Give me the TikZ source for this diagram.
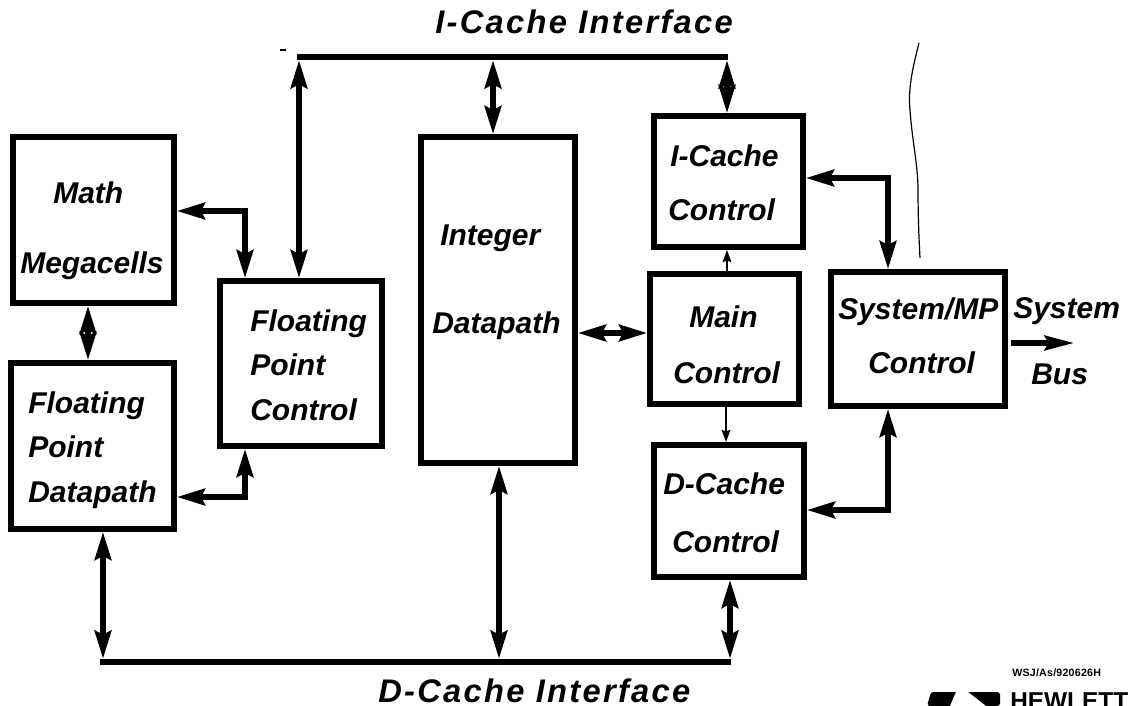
\documentclass[tikz,border=0pt]{standalone}
\usepackage{fontspec}
\setmainfont{Liberation Sans}
\usetikzlibrary{arrows.meta}
\tikzset{
  block/.style={draw=black,line width=4.5pt,fill=white,inner sep=0pt},
  lbl/.style={font=\bfseries\itshape\fontsize{22.5}{22.5}\selectfont,text=black,inner sep=0pt,anchor=base west},
  title/.style={font=\bfseries\itshape\fontsize{24.5}{24.5}\selectfont\addfontfeature{LetterSpace=7},text=black,inner sep=0pt,anchor=base west},
  bus/.style={line width=5pt,black},
  link/.style={line width=3.9pt,black,line join=miter},
  dbl/.style={link,{Stealth[length=21pt,width=12.5pt,inset=3pt]}-{Stealth[length=21pt,width=12.5pt,inset=3pt]}},
  head/.style={link,-{Stealth[length=22pt,width=11pt,inset=3pt]}},
  thinlink/.style={line width=1.6pt,black,-{Stealth[length=9pt,width=6.5pt,inset=1pt]}}
}
\begin{document}
\begin{tikzpicture}[x=0.75pt,y=-0.75pt]
\useasboundingbox (0,0) rectangle (1142,706);
\fill[white] (0,0) rectangle (1142,706);
% blocks
\node[block,minimum width=120.75pt,minimum height=124.5pt] (math) at (93.5,220) {};
\node[block,minimum width=122.25pt,minimum height=124.5pt] (fpd) at (92.5,446) {};
\node[block,minimum width=121.5pt,minimum height=123.75pt] (fpc) at (301,363.5) {};
\node[block,minimum width=115.5pt,minimum height=244.5pt] (int) at (498,300) {};
\node[block,minimum width=111.75pt,minimum height=98.25pt] (ic) at (728.5,181.5) {};
\node[block,minimum width=111.75pt,minimum height=97.5pt] (mc) at (724.5,339) {};
\node[block,minimum width=112.5pt,minimum height=99pt] (dc) at (729,511) {};
\node[block,minimum width=130.5pt,minimum height=100.5pt] (sys) at (918,339) {};
% named connector points
\coordinate (tl) at (299,57); \coordinate (tm) at (493,57); \coordinate (tr) at (727,57);
\coordinate (bl) at (103,662); \coordinate (bm) at (499,662); \coordinate (br) at (730,662);
\coordinate (busin) at (1011,343);
\coordinate (busout) at (1074,343);
% buses
\draw[bus,shorten <=-1.5pt,shorten >=-0.75pt] (tl) -- (tr);
\draw[bus,shorten <=-2.25pt,shorten >=-0.75pt] (bl) -- (br);
\draw[dbl] ([yshift=-2.5pt]tl) -- (tl |- fpc.north);
\draw[dbl] ([yshift=-2.5pt]tm) -- (tm |- int.north);
\draw[dbl] ([yshift=-2.5pt]tr) -- (tr |- ic.north);
\draw[dbl] ([yshift=2.5pt]bl) -- (bl |- fpd.south);
\draw[dbl] ([yshift=2.5pt]bm) -- (bm |- int.south);
\draw[dbl] ([yshift=2.5pt]br) -- (br |- dc.south);
\draw[dbl] (88,0 |- math.south) -- (88,0 |- fpd.north);
\draw[dbl] (int.east |- 0,333) -- (mc.west |- 0,333);
\draw[dbl] (math.east |- 0,211) -- (245,211) -- (245,0 |- fpc.north);
\draw[dbl] (fpd.east |- 0,497) -- (245,497) -- (245,0 |- fpc.south);
\draw[dbl] (ic.east |- 0,178) -- (888,178) -- (888,0 |- sys.north);
\draw[dbl] (dc.east |- 0,510) -- (888,510) -- (888,0 |- sys.south);
\draw[thinlink] (727,0 |- mc.north) -- (727,0 |- ic.south);
\draw[thinlink] (726,0 |- mc.south) -- (726,0 |- dc.north);
\draw[head] (busin) -- (busout);
% squiggle
\draw[line width=0.9pt] (919,43) .. controls (912,70) and (908,90) .. (910,110) .. controls (912,140) and (918,165) .. (918,190) .. controls (918,215) and (919,240) .. (920,258);
\draw[line width=1.4pt] (280,50) -- (286,50);
% labels
\node[title] (t1) at (435,34) {I-Cache Interface};
\node[title] (t2) at (378,702) {D-Cache Interface};
\node[lbl] (l1) at (53,204) {Math};
\node[lbl] (l2) at (20,273) {Megacells};
\node[lbl] (l3) at (28,413) {Floating};
\node[lbl] (l4) at (28,457) {Point};
\node[lbl] (l5) at (28,502) {Datapath};
\node[lbl] (l6) at (250,331) {Floating};
\node[lbl] (l7) at (250,375) {Point};
\node[lbl] (l8) at (250,420) {Control};
\node[lbl] (l9) at (440,245) {Integer};
\node[lbl] (l10) at (432,333) {Datapath};
\node[lbl] (l11) at (670,167) {I-Cache};
\node[lbl] (l12) at (668,220) {Control};
\node[lbl] (l13) at (689,327) {Main};
\node[lbl] (l14) at (673,383) {Control};
\node[lbl] (l15) at (663,494) {D-Cache};
\node[lbl] (l16) at (672,552) {Control};
\node[lbl] (l17) at (838,319) {System/MP};
\node[lbl] (l18) at (868,373) {Control};
\node[lbl] (l19) at (1013,318) {System};
\node[lbl] (l20) at (1031,384) {Bus};
% credit and logo
\node[font=\bfseries\fontsize{8}{8}\selectfont\addfontfeature{LetterSpace=2},inner sep=0pt,anchor=base west] (cr) at (1012,676) {WSJ/As/920626H};
\path[fill=black,rounded corners=2pt] (927,706) -- (931,692) -- (1000,692) -- (1000,706) -- cycle;
\path[fill=white] (950,706) -- (956,692) -- (968,692) -- (986,706) -- cycle;
\node[font=\bfseries\fontsize{18.3}{18.3}\selectfont,inner sep=0pt,anchor=base west] (hp) at (1010,709.5) {HEWLETT};
\end{tikzpicture}
\end{document}
